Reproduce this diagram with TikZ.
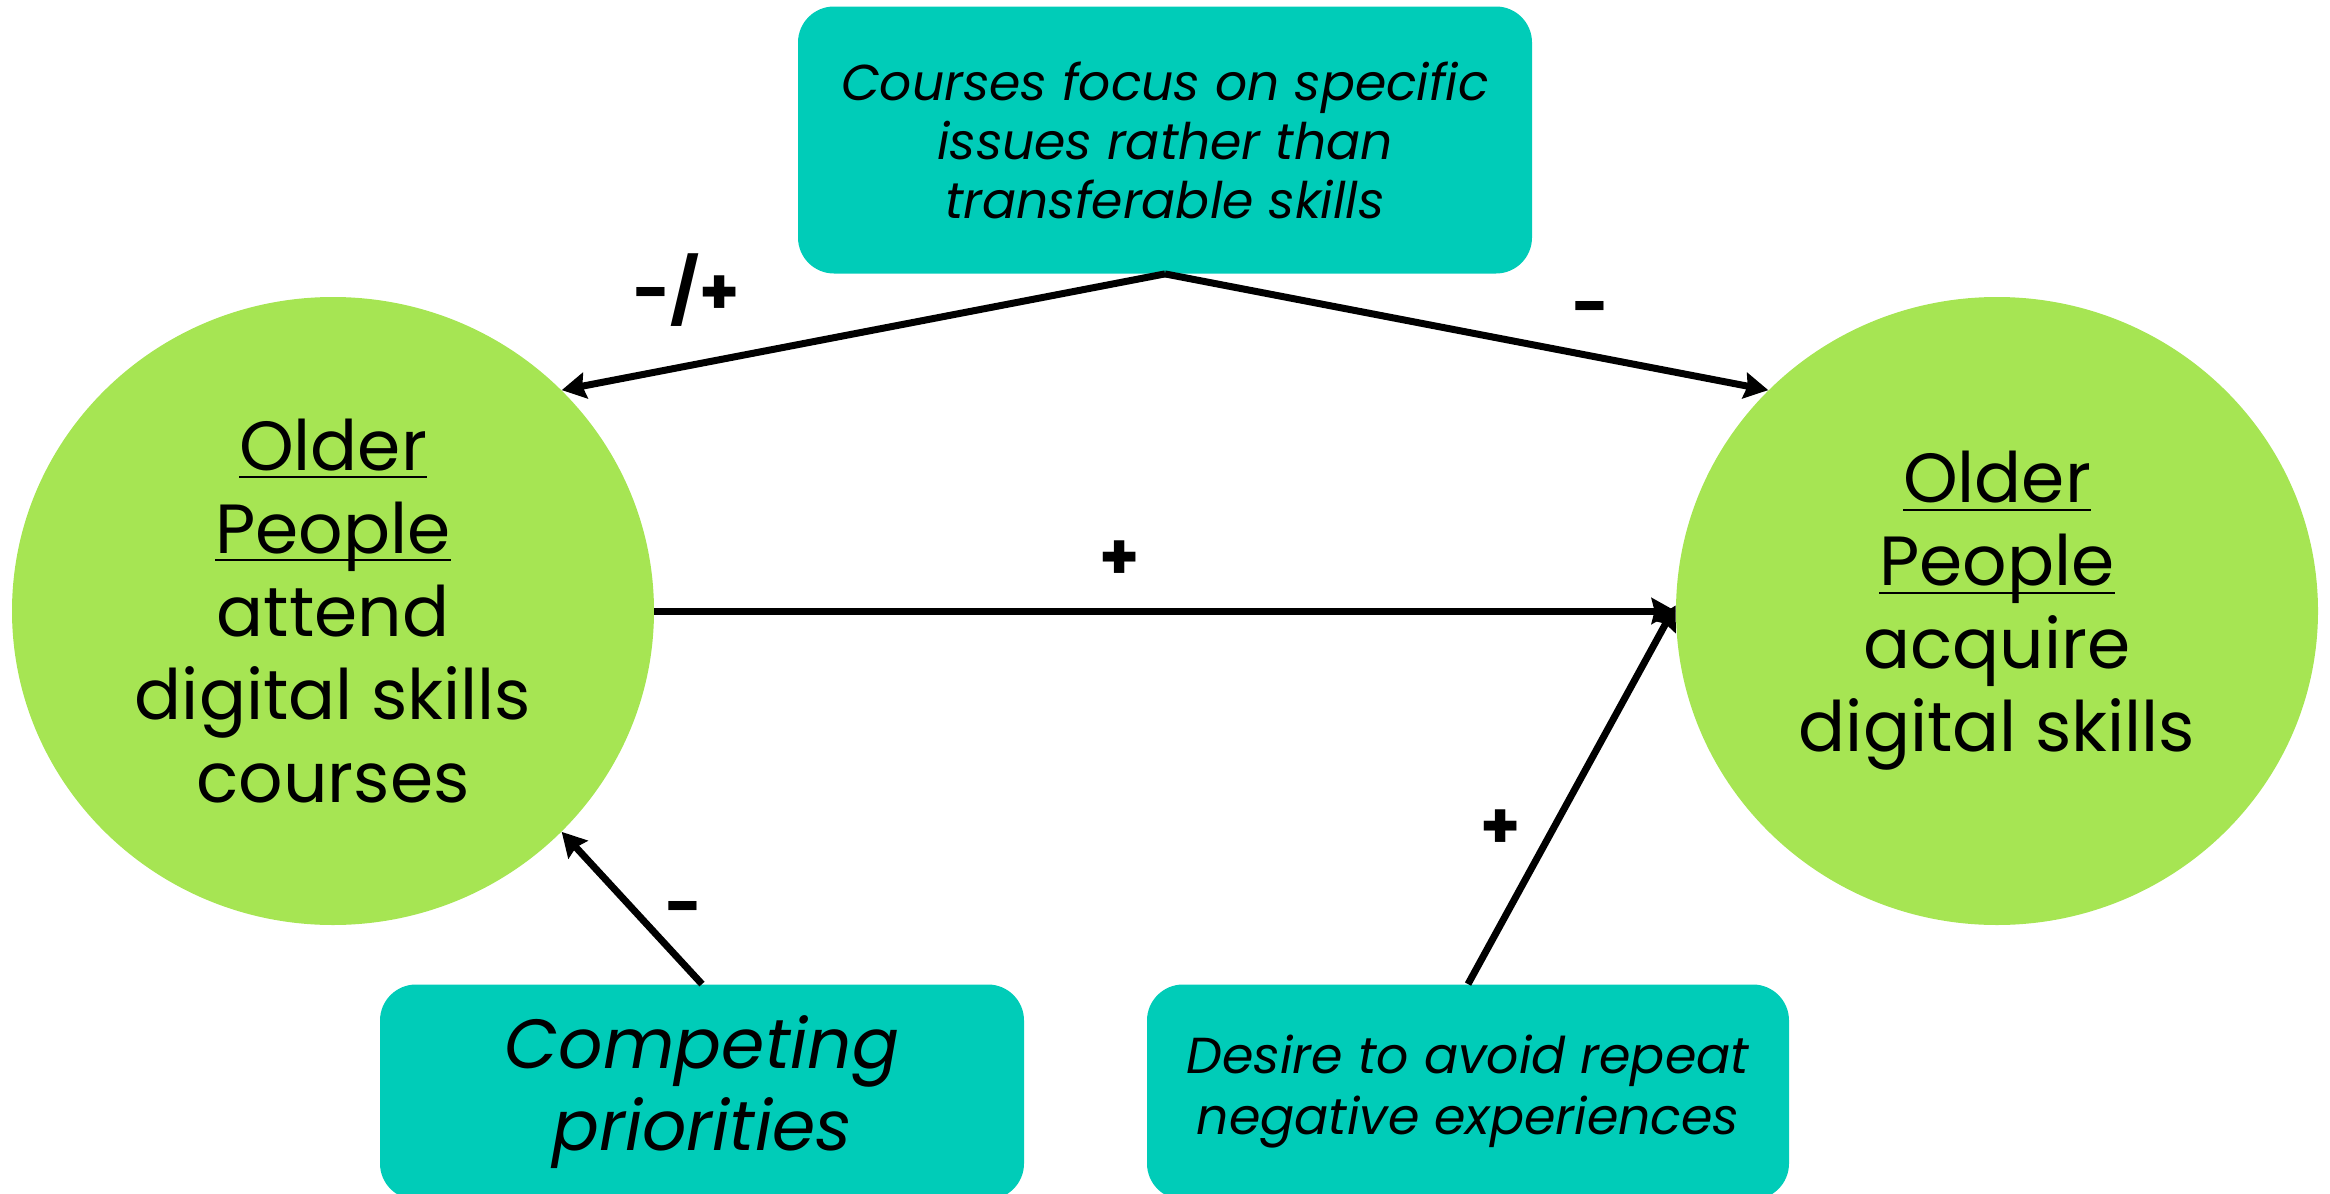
\documentclass[tikz,border=0pt]{standalone}
\usepackage{amsmath}
\usepackage{fontspec}
\setmainfont{Poppins}
\usetikzlibrary{shapes.geometric,arrows.meta}
\definecolor{leafgreen}{RGB}{166,229,83}
\definecolor{tealbox}{RGB}{0,204,184}
\newcommand{\uline}[1]{\underline{\smash[b]{#1}}}
\tikzset{
    outcome/.style={ellipse,fill=leafgreen,inner sep=0pt,minimum width=321pt,minimum height=314pt,
        align=center,font=\fontsize{34.8}{41.5}\selectfont},
    factor/.style={rectangle,rounded corners=18pt,fill=tealbox,inner sep=0pt,
        align=center,font=\itshape},
    link/.style={line width=3.5pt,-{Stealth[length=12pt,width=13pt,inset=1.5pt]}},
    sign/.style={font=\bfseries\fontsize{32}{34}\selectfont,inner sep=0pt}
}
\begin{document}
\begin{tikzpicture}[x=0.5pt,y=-0.5pt]
        \useasboundingbox (0,0) rectangle (2330,1194);
        % the two outcomes
        \node[outcome] (attend) at (333,611) {\uline{Older}\\\uline{People}\\attend\\digital skills\\courses};
        \node[outcome] (acquire) at (1997,611) {\uline{Older}\\\uline{People}\\acquire\\digital skills};
        % the factors
        \node[factor,minimum width=367pt,minimum height=133.5pt,font=\itshape\fontsize{25.2}{29.5}\selectfont]
            (focus) at (1165,140) {Courses focus on specific\\issues rather than\\transferable skills};
        \node[factor,minimum width=322pt,minimum height=107.5pt,font=\itshape\fontsize{34.8}{41}\selectfont]
            (compete) at (702,1092) {Competing\\priorities};
        \node[factor,minimum width=321pt,minimum height=107.5pt,font=\itshape\fontsize{25.3}{30.5}\selectfont]
            (desire) at (1468,1092) {Desire to avoid repeat\\negative experiences};
        % links
        \draw[link] (focus.south) -- (attend.44);
        \draw[link] (focus.south) -- (acquire.136);
        \draw[link] (attend.east) -- (acquire.west);
        \draw[link] (compete.north) -- (attend.-44);
        \draw[link] (desire.north) -- (acquire.179);
        \node[sign] (s1) at (687,290) {-/+};
        \node[sign] (s2) at (1591,315) {-};
        \node[sign] (s3) at (1120,560) {+};
        \node[sign] (s4) at (684,915) {-};
        \node[sign] (s5) at (1501,829) {+};
    \end{tikzpicture}
\end{document}
